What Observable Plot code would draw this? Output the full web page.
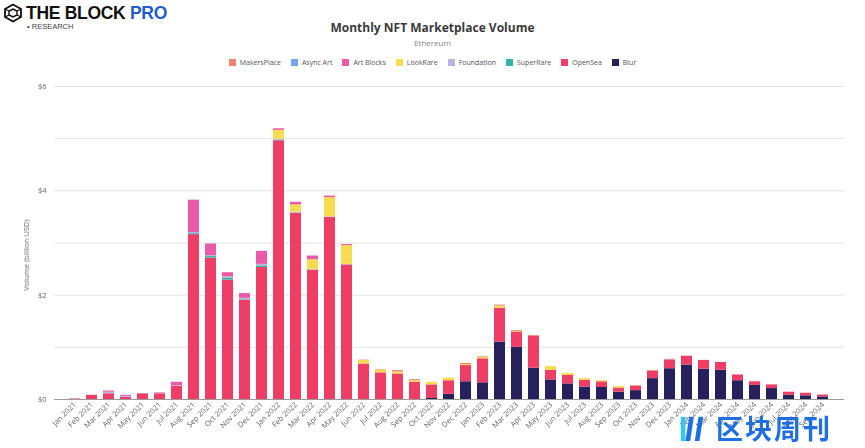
<!DOCTYPE html>
<html>
<head>
<meta charset="utf-8">
<script src="https://cdn.jsdelivr.net/npm/d3@7"></script>
<script src="https://cdn.jsdelivr.net/npm/@observablehq/plot@0.6"></script>
<style>
  html, body { margin:0; padding:0; background:#fff; width:865px; height:448px; overflow:hidden; font-family:"Open Sans", "Noto Sans", sans-serif; }
  #logo { position:absolute; left:3px; top:3px; }
  #logo .brand { font-family:"Liberation Sans", Arial, sans-serif; font-weight:bold; font-size:17.5px; color:#111; letter-spacing:-0.3px; position:absolute; left:23px; top:0px; white-space:nowrap; }
  #logo .brand span { color:#1f5ccf; }
  #logo .research { position:absolute; left:24px; top:19px; font-family:"Liberation Sans", Arial, sans-serif; font-size:7.5px; color:#444; white-space:nowrap; }
  #title { position:absolute; top:19px; left:0; width:865px; text-align:center; font-size:12px; font-weight:bold; color:#3a3a3a; }
  #subtitle { position:absolute; top:37px; left:0; width:865px; text-align:center; font-size:8px; color:#888; }
  #legend { position:absolute; top:58px; left:0; width:865px; display:flex; justify-content:center; gap:10px; font-size:7px; color:#555; }
  #legend .item { display:flex; align-items:center; gap:4px; }
  #legend .sw { width:7px; height:7px; display:inline-block; }
  #chart { position:absolute; left:0; top:76px; will-change:transform; }
  #ylabel { position:absolute; left:26px; top:255px; transform:translate(-50%,-50%) rotate(-90deg); font-size:7.5px; color:#666; white-space:nowrap; }
  #wm { position:absolute; left:678px; top:411px; display:flex; align-items:center; gap:10px; }
  #wm .txt { font-family:"Noto Sans CJK SC"; font-weight:bold; font-size:27px; color:#1f6fe0; letter-spacing:2px; line-height:34px; }
</style>
</head>
<body>
<div id="logo">
  <svg width="20" height="20" viewBox="0 0 20 20" style="position:absolute;left:0;top:0">
    <polygon points="10,1.5 18,6 18,14 10,18.5 2,14 2,6" fill="none" stroke="#111" stroke-width="1.8"/>
    <polygon points="10,6 14,8 14,12 10,14 6,12 6,8" fill="none" stroke="#111" stroke-width="1.4"/>
    <line x1="2" y1="6" x2="6" y2="8" stroke="#111" stroke-width="1.2"/>
    <line x1="18" y1="6" x2="14" y2="8" stroke="#111" stroke-width="1.2"/>
    <line x1="2" y1="14" x2="6" y2="12" stroke="#111" stroke-width="1.2"/>
    <line x1="18" y1="14" x2="14" y2="12" stroke="#111" stroke-width="1.2"/>
  </svg>
  <div class="brand">THE BLOCK <span>PRO</span></div>
  <div class="research">• RESEARCH</div>
</div>
<div id="title">Monthly NFT Marketplace Volume</div>
<div id="subtitle">Ethereum</div>
<div id="legend"></div>
<div id="chart"></div>
<div id="ylabel">Volume (billion USD)</div>
<div id="wm">
  <svg width="28" height="30" viewBox="0 0 30 32">
    <polygon points="3,4 8,4 8,30 3,30" fill="#36c6f0"/>
    <polygon points="12,4 17,4 13,30 8,30" fill="#1f6fe0"/>
    <polygon points="22,4 27,4 23,30 18,30" fill="#1f6fe0"/>
  </svg>
  <div class="txt">区块周刊</div>
</div>
<script>
const months = [
  "Jan 2021","Feb 2021","Mar 2021","Apr 2021","May 2021","Jun 2021","Jul 2021","Aug 2021","Sep 2021","Oct 2021","Nov 2021","Dec 2021",
  "Jan 2022","Feb 2022","Mar 2022","Apr 2022","May 2022","Jun 2022","Jul 2022","Aug 2022","Sep 2022","Oct 2022","Nov 2022","Dec 2022",
  "Jan 2023","Feb 2023","Mar 2023","Apr 2023","May 2023","Jun 2023","Jul 2023","Aug 2023","Sep 2023","Oct 2023","Nov 2023","Dec 2023",
  "Jan 2024","Feb 2024","Mar 2024","Apr 2024","May 2024","Jun 2024","Jul 2024","Aug 2024","Sep 2024"
];

// values in billion USD
const blur = [
  0,0,0,0,0,0,0,0,0,0,0,0,
  0,0,0,0,0,0,0,0,0,0.02,0.10,0.34,
  0.32,1.10,1.00,0.60,0.375,0.30,0.24,0.23,0.14,0.17,0.40,0.59,
  0.66,0.58,0.56,0.36,0.27,0.21,0.08,0.07,0.05
];
const openSea = [
  0.01,0.08,0.11,0.04,0.11,0.11,0.25,3.16,2.71,2.29,1.90,2.53,
  4.96,3.57,2.48,3.49,2.58,0.68,0.51,0.49,0.33,0.26,0.26,0.31,
  0.46,0.65,0.29,0.62,0.185,0.16,0.13,0.11,0.08,0.09,0.15,0.17,
  0.17,0.17,0.15,0.11,0.07,0.07,0.06,0.05,0.035
];
const superRare = [
  0,0,0,0,0,0,0,0.02,0.03,0.04,0.01,0.03,
  0.01,0,0,0,0,0,0,0,0,0,0,0,
  0,0,0,0,0,0,0,0,0,0,0,0,
  0,0,0,0,0,0,0,0,0
];
const foundation = [
  0,0,0.03,0.02,0.005,0.01,0.01,0.02,0.02,0.02,0.03,0.03,
  0.02,0.02,0.01,0.01,0.01,0,0,0,0,0,0,0,
  0,0,0,0,0,0,0,0,0,0,0,0.01,
  0,0,0,0,0,0,0,0,0.005
];
const lookRare = [
  0,0,0,0,0,0,0,0,0,0,0,0,
  0.17,0.14,0.19,0.37,0.36,0.07,0.06,0.04,0.03,0.05,0.05,0.02,
  0.03,0.04,0.01,0.005,0.07,0.04,0.03,0.02,0.03,0.005,0.005,0.005,
  0,0,0,0,0,0,0,0,0
];
const artBlocks = [
  0,0,0.02,0.02,0,0.01,0.07,0.62,0.22,0.08,0.09,0.25,
  0.03,0.05,0.07,0.03,0.02,0.005,0.005,0.005,0,0,0,0,
  0,0,0,0,0,0,0,0,0,0,0,0,
  0,0,0,0,0,0,0,0,0
];
const asyncArt = [
  0,0,0.002,0.002,0,0,0,0.002,0.002,0,0,0,
  0,0,0,0,0,0,0,0,0,0,0,0,
  0,0,0,0,0,0,0,0,0,0,0,0,
  0,0,0,0,0,0,0,0,0
];
const makersPlace = [
  0,0,0.005,0,0,0,0,0,0,0,0,0,
  0,0,0,0,0,0,0,0.02,0.02,0,0,0.02,
  0.01,0.02,0.02,0,0,0,0,0,0,0,0,0,
  0,0,0,0,0,0,0,0,0
];

const legendNames = ["MakersPlace","Async Art","Art Blocks","LookRare","Foundation","SuperRare","OpenSea","Blur"];
const legendColors = ["#ef8270","#73a6ee","#ea5aa8","#f7dc52","#b9b4e0","#35b3a5","#ef3e66","#26215c"];

// stacking order bottom -> top
const stackOrder = [
  ["Blur", blur], ["OpenSea", openSea], ["SuperRare", superRare], ["Foundation", foundation],
  ["LookRare", lookRare], ["Art Blocks", artBlocks], ["Async Art", asyncArt], ["MakersPlace", makersPlace]
];
const rows = [];
for (const [name, vals] of stackOrder) {
  months.forEach((m, i) => rows.push({month: m, series: name, value: vals[i]}));
}

// legend
const leg = document.getElementById("legend");
legendNames.forEach((n, i) => {
  const it = document.createElement("div");
  it.className = "item";
  it.innerHTML = `<span class="sw" style="background:${legendColors[i]}"></span><span>${n}</span>`;
  leg.appendChild(it);
});

const chart = Plot.plot({
  width: 865,
  height: 372,
  marginLeft: 54,
  marginRight: 21,
  marginTop: 10,
  marginBottom: 49,
  style: {fontFamily: "'Open Sans', 'Noto Sans', sans-serif", fontSize: "7.5px", color: "#666", background: "#fff"},
  x: {domain: months, padding: 0.35, label: null},
  y: {domain: [0, 6], label: null},
  color: {domain: legendNames, range: legendColors},
  marks: [
    Plot.gridY([0,1,2,3,4,5,6], {stroke: "#e4e4e4", strokeOpacity: 1}),
    Plot.barY(rows, {x: "month", y: "value", fill: "series"}),
    Plot.ruleY([0], {stroke: "#9a9a9a", strokeWidth: 1}),
    Plot.axisY([0,2,4,6], {tickSize: 0, tickPadding: 8, tickFormat: d => "$" + d, label: null, fill: "#666"}),
    Plot.axisX({tickSize: 0, tickPadding: 4, tickRotate: -45, label: null, fill: "#666"})
  ]
});
document.getElementById("chart").appendChild(chart);
</script>
</body>
</html>
